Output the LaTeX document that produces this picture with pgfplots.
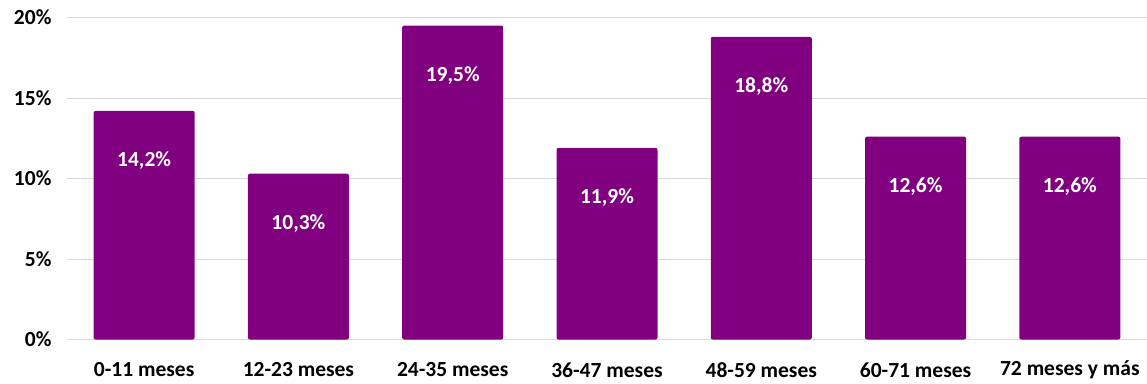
\documentclass[border=0pt]{standalone}
\usepackage{fontspec}
\setmainfont{Carlito}
\usepackage{pgfplots}
\pgfplotsset{compat=1.18}
\usetikzlibrary{calc}
\definecolor{barpurple}{HTML}{800080}
\definecolor{gridgray}{HTML}{D9D9D9}
\begin{document}
\begin{tikzpicture}
\begin{axis}[
  name=ax,
  scale only axis,
  width=1080pt, height=322pt,
  xmin=-0.5, xmax=6.5,
  ymin=0, ymax=20,
  ybar, bar width=101pt,
  axis line style={draw=none},
  ymajorgrids, grid style={gridgray, line width=0.8pt},
  ytick={0,5,10,15,20},
  yticklabel={\pgfmathprintnumber{\tick}\%},
  xtick=data,
  xticklabels={0-11 meses,12-23 meses,24-35 meses,36-47 meses,48-59 meses,60-71 meses,72 meses y más},
  tick style={draw=none},
  tick label style={font=\fontsize{21.5}{24}\selectfont\bfseries, text=black},
  /pgf/number format/assume math mode=true,
  yticklabel style={xshift=-12pt},
  xticklabel style={yshift=-26pt, anchor=center},
  nodes near coords={\pgfmathprintnumber[fixed,fixed zerofill,precision=1,use comma]{\pgfplotspointmeta}\%},
  every node near coord/.style={anchor=center, yshift=-50pt, text=white, font=\fontsize{21.5}{24}\selectfont\bfseries},
]
\addplot[fill=barpurple, draw=none, rounded corners=2pt] coordinates {
(0,14.2) (1,10.3) (2,19.5) (3,11.9) (4,18.8) (5,12.6) (6,12.6)
};
\end{axis}
\pgfresetboundingbox
\path ($(ax.south west)+(-67pt,-43.5pt)$) rectangle ($(ax.north east)+(0pt,17.5pt)$);
\end{tikzpicture}
\end{document}
